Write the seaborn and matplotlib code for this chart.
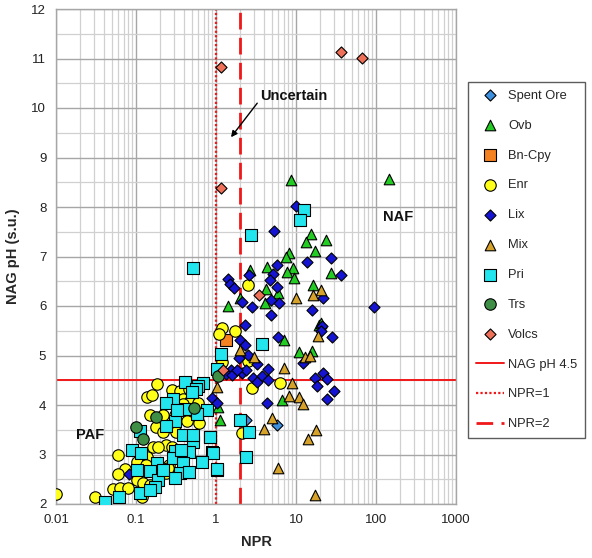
import numpy as np
import pandas as pd
import matplotlib
matplotlib.use("Agg")
import matplotlib.pyplot as plt
import seaborn as sns
from matplotlib.ticker import FixedLocator, FuncFormatter, NullFormatter, LogLocator, MultipleLocator

# ---------------- data ----------------
spent_ore_npr = [5.8, 2.4]
spent_ore_ph = [3.6, 3.7]

ovb_npr = [145, 8.7, 15.4, 13.3, 23.7, 17.3, 8.2, 7.5, 9.2, 7.7, 4.3, 9.4, 27.4, 16.3, 4.2, 6.0,
           4.1, 2.65, 2.0, 1.41, 19.4, 20.5, 7.1, 10.9, 15.8, 6.7, 1.12, 1.05]
ovb_ph = [8.57, 8.55, 7.45, 7.29, 7.33, 7.11, 7.07, 6.99, 6.77, 6.69, 6.79, 6.57, 6.67, 6.42, 6.34, 6.26,
          6.06, 6.72, 6.16, 6.0, 5.62, 5.66, 5.31, 5.07, 5.09, 4.10, 3.70, 3.95]

bncpy_npr = [1.33]
bncpy_ph = [5.31]

enr_npr = [2.5, 1.19, 1.09, 1.73, 1.2, 6.3, 2.8, 2.1, 2.5,
           0.183, 0.28, 0.355, 0.46, 0.137, 0.39, 0.46, 0.15, 0.22, 0.31, 0.434, 0.61, 0.178,
           0.32, 0.5, 0.164, 0.24, 0.28, 0.19, 0.06, 0.137, 0.103, 0.133, 0.26, 0.073, 0.06,
           0.24, 0.103, 0.122, 0.15, 0.052, 0.063, 0.079, 0.122, 0.031, 0.01, 0.118, 0.25,
           0.22, 0.6, 0.16, 0.39]
enr_ph = [6.42, 5.56, 5.43, 5.49, 4.86, 4.44, 4.34, 3.43, 4.88,
          4.42, 4.30, 4.28, 4.32, 4.16, 4.12, 4.06, 3.80, 3.80, 3.80, 3.68, 3.64, 3.56,
          3.45, 3.35, 3.15, 3.19, 3.15, 3.15, 2.99, 2.95, 2.85, 2.79, 2.79, 2.71, 2.61,
          2.63, 2.49, 2.42, 2.38, 2.30, 2.32, 2.32, 2.22, 2.14, 2.20, 2.14, 2.73,
          3.45, 4.04, 4.20, 4.02]

lix_npr = [10, 5.3, 13.7, 27.4, 36.5, 5.8, 2.6, 5.2, 1.41, 1.5, 1.68, 4.7, 5.8, 21.8, 2.1, 6.1,
           4.9, 2.8, 15.8, 94, 4.9, 2.3, 21, 20.5, 28.2, 6.0, 2.0, 2.3, 2.5, 1.95, 12.2, 3.25,
           4.5, 1.54, 1.33, 1.6, 2.1, 2.4, 1.85, 3.8, 2.9, 3.25, 4.5, 17.3, 21.5, 24.2, 18.5,
           30, 24.2, 4.3, 0.9, 1.03, 0.082]
lix_ph = [8.02, 7.51, 6.89, 6.97, 6.63, 6.83, 6.63, 6.65, 6.55, 6.44, 6.36, 6.53, 6.38, 6.16, 6.08, 6.06,
          6.12, 5.98, 5.92, 5.98, 5.82, 5.62, 5.60, 5.50, 5.37, 5.37, 5.31, 5.21, 5.01, 4.95, 4.85, 4.83,
          4.73, 4.71, 4.63, 4.60, 4.65, 4.71, 4.71, 4.59, 4.55, 4.47, 4.50, 4.55, 4.65, 4.53, 4.38,
          4.28, 4.12, 4.04, 4.14, 4.04, 2.61]

mix_npr = [20.5, 16.3, 10, 18.8, 2.0, 3.0, 13, 15, 7.1, 8.9, 1.03, 8.2, 10.9, 12.2, 5.0, 4.0,
           17.8, 14.1, 6.0, 17.3]
mix_ph = [6.32, 6.22, 6.16, 5.39, 5.11, 4.97, 4.97, 4.99, 4.75, 4.44, 4.36, 4.18, 4.16, 4.02, 3.74, 3.52,
          3.49, 3.31, 2.73, 2.18]

pri_npr = [12.6, 11.2, 2.74, 3.76, 1.15, 2.0, 2.6, 2.35, 1.03, 0.85, 0.9, 0.52, 1.02,
           0.41, 0.69, 0.6, 0.56, 0.29, 0.237, 0.41, 0.77, 0.58, 0.31, 0.237, 0.112, 0.39,
           0.84, 0.52, 0.089, 0.115, 0.31, 0.46, 0.92, 0.29, 0.39, 0.67, 0.183, 0.103, 0.15,
           0.355, 0.46, 1.03, 0.19, 0.31, 0.061, 0.112, 0.173, 0.041, 0.15, 0.215, 0.52,
           0.37, 0.33, 0.5]
pri_ph = [7.94, 7.74, 7.43, 5.23, 5.03, 3.70, 3.45, 2.95, 2.69, 3.35, 3.05, 6.77, 4.72,
          4.46, 4.44, 4.38, 4.32, 4.12, 4.04, 3.92, 3.90, 3.82, 3.68, 3.58, 3.47, 3.39,
          3.35, 3.25, 3.09, 3.03, 3.07, 3.05, 3.03, 2.93, 2.83, 2.85, 2.83, 2.69, 2.67,
          2.63, 2.65, 2.71, 2.49, 2.53, 2.14, 2.22, 2.34, 2.04, 2.28, 2.69, 3.39,
          3.09, 3.90, 4.26]

trs_npr = [1.05, 0.53, 0.18, 0.1, 0.122]
trs_ph = [4.59, 3.94, 3.76, 3.56, 3.31]

volcs_npr = [1.15, 1.17, 36.5, 67, 3.45, 1.22]
volcs_ph = [10.83, 8.38, 11.13, 11.01, 6.22, 4.71]

x_ticks = [0.01, 0.1, 1, 10, 100, 1000]
y_ticks = [2, 3, 4, 5, 6, 7, 8, 9, 10, 11, 12]
nag_threshold = 4.5
npr_lines = [1, 2]

# ---------------- styling ----------------
sns.set_style("white")
plt.rcParams["font.family"] = ["Liberation Sans", "DejaVu Sans"]

groups = [
    ("Spent Ore", spent_ore_npr, spent_ore_ph, "D", "#3D8FE0", 32),
    ("Ovb", ovb_npr, ovb_ph, "^", "#22CC22", 58),
    ("Bn-Cpy", bncpy_npr, bncpy_ph, "s", "#F58220", 72),
    ("Enr", enr_npr, enr_ph, "o", "#FFFF1A", 68),
    ("Lix", lix_npr, lix_ph, "D", "#1414D2", 32),
    ("Mix", mix_npr, mix_ph, "^", "#D6A22A", 58),
    ("Pri", pri_npr, pri_ph, "s", "#22E5EE", 72),
    ("Trs", trs_npr, trs_ph, "o", "#3E8E45", 68),
    ("Volcs", volcs_npr, volcs_ph, "D", "#EE7058", 32),
]

fig = plt.figure(figsize=(5.92, 5.58), dpi=100)
ax = fig.add_axes([56 / 592, 1 - 504 / 558, 400 / 592, 495 / 558])

for i, (name, xs, ys, mk, col, s) in enumerate(groups):
    df = pd.DataFrame({"NPR": xs, "pH": ys})
    sns.scatterplot(data=df, x="NPR", y="pH", ax=ax, marker=mk, s=s, color=col,
                    edgecolor="black", linewidth=0.8, label=name, zorder=3 + i * 0.01)

ax.set_xscale("log")
ax.set_xlim(x_ticks[0], x_ticks[-1])
ax.set_ylim(y_ticks[0], y_ticks[-1])

red = "#F01818"
ax.axhline(nag_threshold, color=red, lw=1.4, label="NAG pH 4.5", zorder=2)
ax.axvline(npr_lines[0], color=red, lw=1.6, linestyle=(0, (1, 1)), label="NPR=1", zorder=2)
ax.axvline(npr_lines[1], color=red, lw=2.0, linestyle=(0, (6, 3)), label="NPR=2", zorder=2)

# ticks & grid
ax.xaxis.set_major_locator(FixedLocator(x_ticks))
ax.xaxis.set_minor_locator(LogLocator(base=10, subs=np.arange(2, 10)))
ax.xaxis.set_major_formatter(FuncFormatter(lambda v, p: f"{v:g}"))
ax.xaxis.set_minor_formatter(NullFormatter())
ax.yaxis.set_major_locator(FixedLocator(y_ticks))
ax.yaxis.set_minor_locator(MultipleLocator(0.5))

ax.grid(True, which="major", color="#A6A6A6", lw=1.0, zorder=0)
ax.grid(True, which="minor", color="#D0D0D0", lw=0.9, zorder=0)
ax.set_axisbelow(True)
ax.tick_params(axis="both", which="major", length=4, width=1, color="#A6A6A6",
               labelsize=9.5, labelcolor="#222222", pad=3)
ax.tick_params(axis="both", which="minor", length=0)
for sp in ax.spines.values():
    sp.set_color("#A6A6A6")
    sp.set_linewidth(1.0)

ax.set_xlabel("NPR", fontsize=10.5, fontweight="bold", labelpad=7)
ax.set_ylabel("NAG pH (s.u.)", fontsize=10.5, fontweight="bold", labelpad=8)

# annotations
ax.annotate("Uncertain", xy=(1.54, 9.41), xytext=(3.6, 10.24), fontsize=10.5, fontweight="bold",
            va="center", ha="left", color="#111111",
            arrowprops=dict(arrowstyle="-|>", color="black", lw=1.0, shrinkA=0, shrinkB=0,
                            mutation_scale=9, relpos=(0, 0.3)))
ax.text(122, 7.8, "NAF", fontsize=10.5, fontweight="bold", va="center", ha="left", color="#111111")
ax.text(0.0178, 3.39, "PAF", fontsize=10.5, fontweight="bold", va="center", ha="left", color="#111111")

handles, labels = ax.get_legend_handles_labels()
leg = ax.legend(handles, labels, loc="upper left", bbox_to_anchor=(468 / 592, 1 - 82 / 558),
                bbox_transform=fig.transFigure, frameon=True, fancybox=False, edgecolor="#333333",
                fontsize=9.3, labelspacing=1.38, handlelength=2.2, handletextpad=0.3,
                borderpad=0.6, borderaxespad=0, markerscale=1.0)
leg.get_frame().set_linewidth(1.0)

fig.savefig("out.png", dpi=100)
